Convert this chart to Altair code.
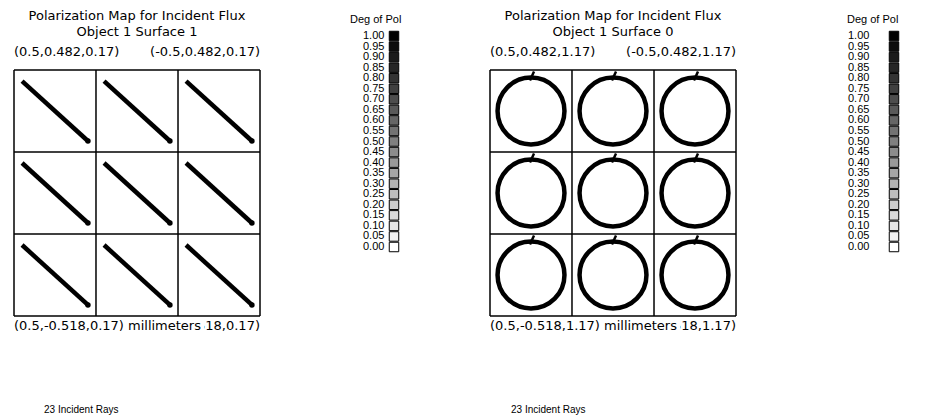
import math
import altair as alt
import pandas as pd

# ---------------- data ----------------
cell_x = [0.3333, 0.0, -0.3333]            # cell centres, mm
cell_y = [0.3153, -0.0180, -0.3513]
grid_x = [0.5, 0.1667, -0.1667, -0.5]      # cell boundaries, mm
grid_y = [0.482, 0.1487, -0.1847, -0.518]
x_left, x_right = 0.5, -0.5
y_bottom, y_top = -0.518, 0.482

panel_titles = ["Polarization Map for Incident Flux\nObject 1 Surface 1",
                "Polarization Map for Incident Flux\nObject 1 Surface 0"]
panel_z = [0.17, 1.17]
pol_type = ["linear", "circular"]
pol_semi_axis = [0.181, 0.136]      # mm
pol_angle_deg = [-42.3, 0.0]
incident_rays = [23, 23]
units = "millimeters"

legend_title = "Deg of Pol"
deg_levels = [1.00, 0.95, 0.90, 0.85, 0.80, 0.75, 0.70, 0.65, 0.60, 0.55, 0.50,
              0.45, 0.40, 0.35, 0.30, 0.25, 0.20, 0.15, 0.10, 0.05, 0.00]

# ---------------- layout / style ----------------
W = H = 246
PX = (x_left - x_right) / W          # mm per pixel
FONT = "DejaVu Sans"
FONT_SMALL = "Liberation Sans"
BIG = 13
SMALL = 11


def fmt(v):
    return f"{v:g}"


def panel(i, rays_dx):
    xs = alt.Scale(domain=[x_left, x_right], nice=False, zero=False)
    ys = alt.Scale(domain=[y_bottom, y_top], nice=False, zero=False)
    X = lambda f: alt.X(f, type="quantitative", scale=xs, axis=None)
    Y = lambda f: alt.Y(f, type="quantitative", scale=ys, axis=None)
    z = panel_z[i]

    vlines = alt.Chart(pd.DataFrame({"x": grid_x})).mark_rule(
        color="black", strokeWidth=1.5).encode(x=X("x"))
    hlines = alt.Chart(pd.DataFrame({"y": grid_y})).mark_rule(
        color="black", strokeWidth=1.5).encode(y=Y("y"))

    cells = pd.DataFrame([(cx, cy) for cy in cell_y for cx in cell_x], columns=["cx", "cy"])
    a = pol_semi_axis[i]
    layers = [vlines, hlines]
    if pol_type[i] == "linear":
        th = math.radians(pol_angle_deg[i])
        dxv, dyv = a * math.cos(th), a * math.sin(th)
        cells["x"] = cells.cx + dxv
        cells["y"] = cells.cy - dyv
        cells["x2"] = cells.cx - dxv
        cells["y2"] = cells.cy + dyv
        line = alt.Chart(cells).mark_rule(color="black", strokeWidth=4.5, strokeCap="butt").encode(
            x=X("x"), y=Y("y"), x2="x2", y2="y2")
        head = alt.Chart(cells).mark_point(shape="circle", filled=True, color="black",
                                           size=30, opacity=1).encode(x=X("x2"), y=Y("y2"))
        layers += [line, head]
    else:
        d = 2 * a / PX
        circ = alt.Chart(cells).mark_point(shape="circle", filled=False, color="black",
                                           strokeWidth=4.5, size=d * d, opacity=1).encode(
            x=X("cx"), y=Y("cy"))
        cells["tx"] = cells.cx + 1 * PX
        cells["ty"] = cells.cy + a - 3 * PX
        cells["tx2"] = cells.cx - 3 * PX
        cells["ty2"] = cells.cy + a + 6 * PX
        tick = alt.Chart(cells).mark_rule(color="black", strokeWidth=2.5).encode(
            x=X("tx"), y=Y("ty"), x2="tx2", y2="ty2")
        layers += [circ, tick]

    def txt(df, **kw):
        base = dict(font=FONT, fontSize=BIG, color="black", baseline="alphabetic")
        base.update(kw)
        return alt.Chart(df).mark_text(**base).encode(x=X("x"), y=Y("y"), text="t:N")

    title = txt(pd.DataFrame({"x": [0.0], "y": [y_top], "t": [panel_titles[i]]}),
                align="center", dy=-50, lineBreak="\n", lineHeight=16)
    tl = txt(pd.DataFrame({"x": [x_left], "y": [y_top],
                           "t": [f"({fmt(x_left)},{fmt(y_top)},{fmt(z)})"]}), align="left", dy=-14)
    tr = txt(pd.DataFrame({"x": [x_right], "y": [y_top],
                           "t": [f"({fmt(x_right)},{fmt(y_top)},{fmt(z)})"]}), align="right", dy=-14)
    bl = txt(pd.DataFrame({"x": [x_left], "y": [y_bottom],
                           "t": [f"({fmt(x_left)},{fmt(y_bottom)},{fmt(z)})"]}), align="left", dy=14)
    br = txt(pd.DataFrame({"x": [x_right], "y": [y_bottom],
                           "t": [f"({fmt(x_right)},{fmt(y_bottom)},{fmt(z)})"]}), align="right", dy=14)
    mask = alt.Chart(pd.DataFrame({"x": [x_left - 112 * PX], "x2": [x_left - 190 * PX],
                                   "y": [y_bottom - 3 * PX], "y2": [y_bottom - 17 * PX]})).mark_rect(
        color="white", opacity=1).encode(x=X("x"), x2="x2", y=Y("y"), y2="y2")
    unit = txt(pd.DataFrame({"x": [x_left], "y": [y_bottom], "t": [units]}),
               align="left", dx=114, dy=14)
    rays = txt(pd.DataFrame({"x": [x_left], "y": [y_bottom],
                             "t": [f"{incident_rays[i]} Incident Rays"]}),
               align="left", dx=rays_dx, dy=97, font=FONT_SMALL, fontSize=10)
    layers += [title, tl, tr, bl, br, mask, unit, rays]
    return alt.layer(*layers).properties(width=W, height=H)


def legend(width, num_x, sq_x, title_x):
    df = pd.DataFrame({"v": deg_levels, "label": [f"{v:.2f}" for v in deg_levels]})
    y = alt.Y("v:Q", scale=alt.Scale(domain=[0, 1], range=[177, -34], nice=False, zero=False),
              axis=None)
    labels = alt.Chart(df).mark_text(font=FONT_SMALL, fontSize=SMALL, align="left",
                                     baseline="middle", color="black").encode(
        x=alt.value(num_x), y=y, text="label:N")
    squares = alt.Chart(df).mark_square(size=90, stroke="black", strokeWidth=1, opacity=1).encode(
        x=alt.value(sq_x), y=y,
        fill=alt.Fill("v:Q", scale=alt.Scale(domain=[0, 1], range=["#ffffff", "#000000"],
                                             interpolate="rgb"), legend=None))
    head = alt.Chart(pd.DataFrame({"t": [legend_title]})).mark_text(
        font=FONT_SMALL, fontSize=SMALL, align="left", baseline="middle", color="black").encode(
        x=alt.value(title_x), y=alt.value(-50), text="t:N")
    return alt.layer(squares, labels, head).properties(width=width, height=H)


chart = alt.hconcat(
    panel(0, 30), legend(230, 103, 134, 90), panel(1, 21), legend(170, 112, 158, 111),
    spacing=0, bounds="flush"
).properties(
    padding={"left": 5, "top": 2, "right": 5, "bottom": 0},
    background="white"
).configure_view(strokeWidth=0, stroke="transparent")

chart.save("out.html", embed_options={"renderer": "svg", "actions": False})
